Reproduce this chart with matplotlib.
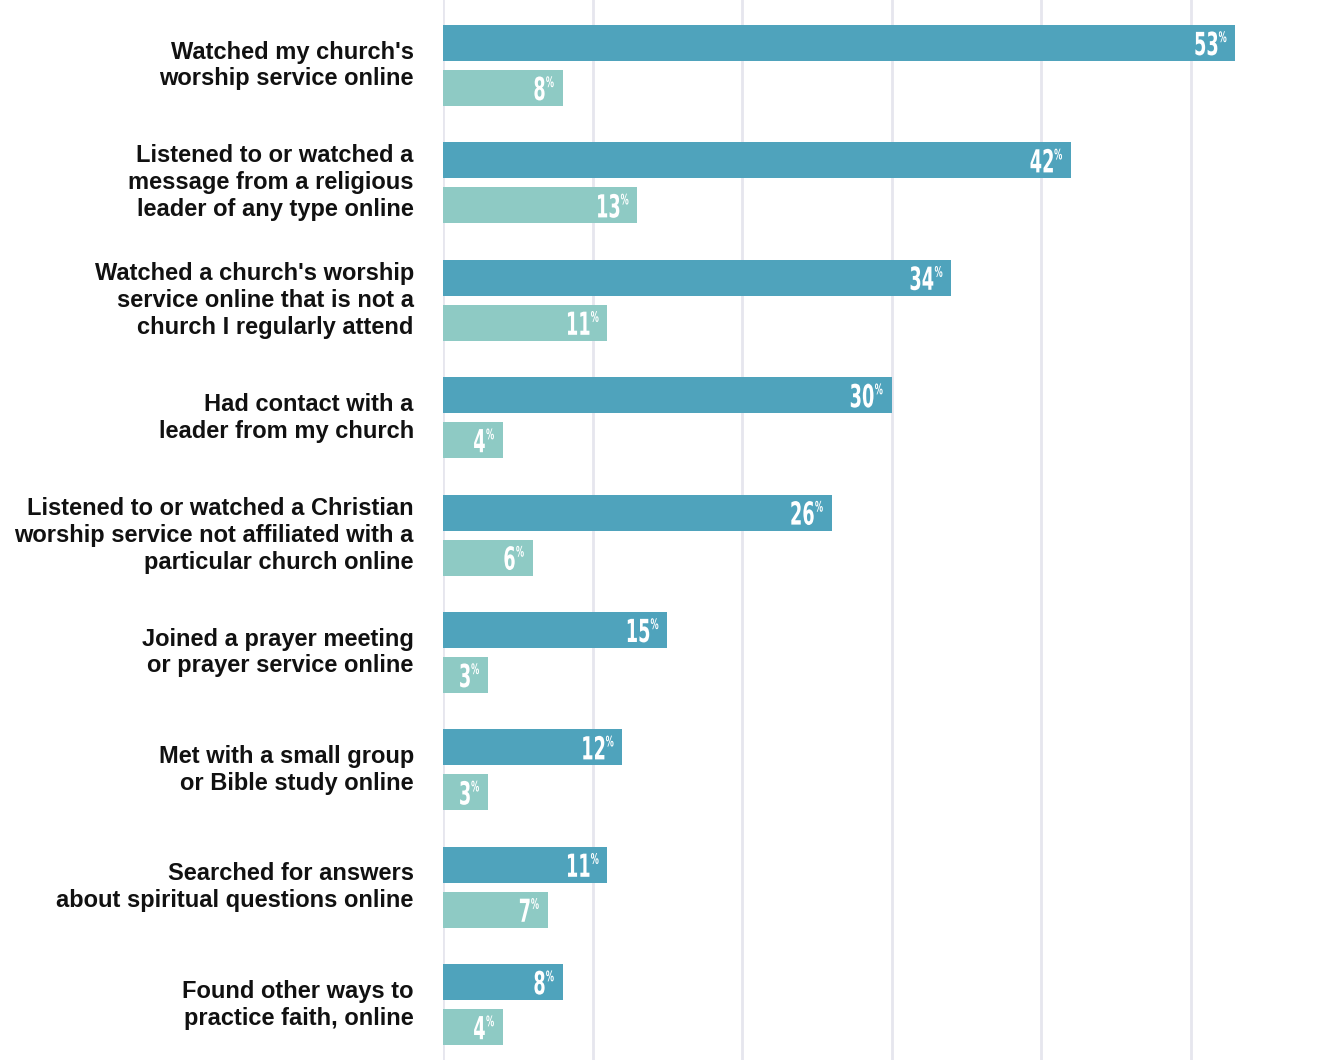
import matplotlib
matplotlib.use('Agg')
from matplotlib import pyplot as plt
from matplotlib.textpath import TextPath
from matplotlib.font_manager import FontProperties
from matplotlib.patches import PathPatch
from matplotlib.transforms import Affine2D, IdentityTransform
import numpy as np

labels = [
    "Watched my church's\nworship service online",
    "Listened to or watched a\nmessage from a religious\nleader of any type online",
    "Watched a church's worship\nservice online that is not a\nchurch I regularly attend",
    "Had contact with a\nleader from my church",
    "Listened to or watched a Christian\nworship service not affiliated with a\nparticular church online",
    "Joined a prayer meeting\nor prayer service online",
    "Met with a small group\nor Bible study online",
    "Searched for answers\nabout spiritual questions online",
    "Found other ways to\npractice faith, online",
]
dark_values = [53, 42, 34, 30, 26, 15, 12, 11, 8]
light_values = [8, 13, 11, 4, 6, 3, 3, 7, 4]

dark_color = '#4fa3bc'
light_color = '#8ecac4'
grid_color = '#e6e6ee'

fig = plt.figure(figsize=(13.4, 10.6), dpi=100)
ax = fig.add_axes([443 / 1340, 0, 897 / 1340, 1])

y = np.arange(len(labels))
off = 0.1917
h = 0.3066
ax.barh(y - off, dark_values, height=h, color=dark_color, zorder=2)
ax.barh(y + off, light_values, height=h, color=light_color, zorder=2)

ax.set_xlim(0, 60)
ax.set_ylim(8.471, -0.558)
ax.set_xticks([0, 10, 20, 30, 40, 50])
ax.grid(axis='x', color=grid_color, linewidth=2, zorder=0)
ax.tick_params(left=False, bottom=False, labelleft=False, labelbottom=False)
for s in ax.spines.values():
    s.set_visible(False)

# condensed number labels: squeeze a bold text path sideways
num_prop = FontProperties(family='DejaVu Sans', weight='bold')
ref_h = TextPath((0, 0), '0', size=1, prop=num_prop).get_extents().height
squeeze = 0.56

def cond_text(s, x, y0, height, ha):
    tp = TextPath((0, 0), s, size=1, prop=num_prop)
    ext = tp.get_extents()
    k = height / ref_h
    w = ext.width * k * squeeze
    left = x - w if ha == 'right' else x
    tr = (Affine2D().translate(-ext.x0, 0).scale(k * squeeze, k)
          .translate(left, y0))
    p = PathPatch(tr.transform_path(tp), facecolor='white', lw=0,
                  transform=IdentityTransform(), zorder=5)
    fig.add_artist(p)

def value_label(v, yy):
    xe, yc = ax.transData.transform((v, yy))
    digit_h = 24
    base = yc - digit_h / 2
    cond_text(str(v), xe - 18, base, digit_h, 'right')
    pct_h = 11
    cond_text('%', xe - 16.5, base + digit_h - pct_h, pct_h, 'left')

for i in range(len(labels)):
    value_label(dark_values[i], y[i] - off)
    value_label(light_values[i], y[i] + off)
    ax.annotate(labels[i], (0, y[i]), xytext=(-21, 0), textcoords='offset points',
                ha='right', va='center', fontsize=17, fontweight='bold',
                family='Liberation Sans', color='#111111', linespacing=1.22,
                annotation_clip=False)

plt.savefig('out.png', dpi=100)
